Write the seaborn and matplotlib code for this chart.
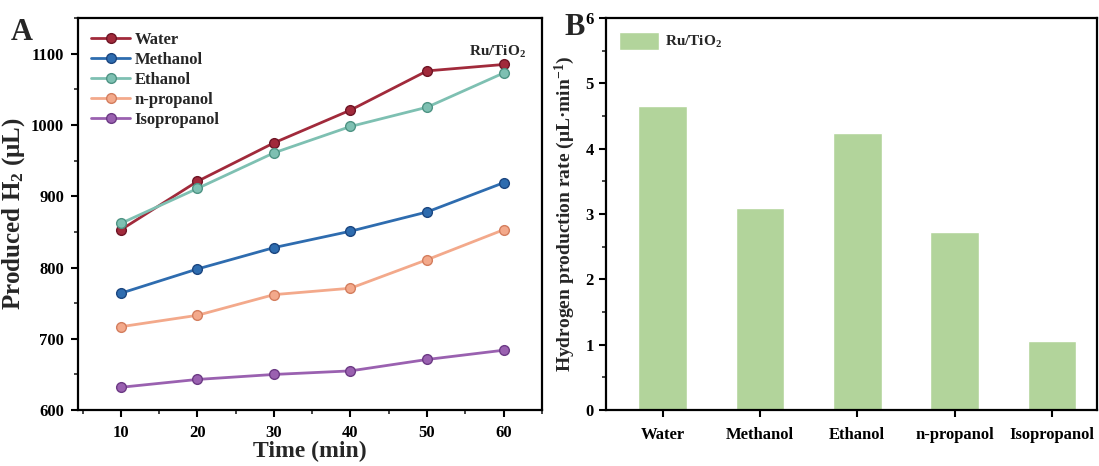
import pandas as pd
import seaborn as sns
import matplotlib.pyplot as plt
from matplotlib.ticker import MultipleLocator

time_min = [10, 20, 30, 40, 50, 60]
water = [853, 921, 975, 1021, 1076, 1085]
methanol = [764, 798, 828, 851, 878, 919]
ethanol = [862, 911, 961, 998, 1025, 1073]
n_propanol = [717, 733, 762, 771, 811, 853]
isopropanol = [632, 643, 650, 655, 671, 684]

solvents = ["Water", "Methanol", "Ethanol", "n-propanol", "Isopropanol"]
rates = [4.65, 3.10, 4.24, 2.72, 1.05]

line_colors = ["#A12A3B", "#2E6CAF", "#7EC0B2", "#F3A98B", "#9A61B0"]
edge_colors = ["#6E1525", "#1B4680", "#4E9484", "#D47E5E", "#6C3A85"]
bar_color = "#B2D49B"

sns.set_style("ticks")
plt.rcParams["font.family"] = ["Liberation Serif", "DejaVu Serif"]
plt.rcParams["font.weight"] = "bold"
plt.rcParams["axes.labelweight"] = "bold"
plt.rcParams["mathtext.fontset"] = "custom"
plt.rcParams["mathtext.rm"] = "Liberation Serif:bold"
plt.rcParams["mathtext.bf"] = "Liberation Serif:bold"
plt.rcParams["mathtext.it"] = "Liberation Serif:bold"

df = pd.DataFrame({
    "Time": time_min * 5,
    "H2": water + methanol + ethanol + n_propanol + isopropanol,
    "Solvent": [s for s in solvents for _ in time_min],
})

fig = plt.figure(figsize=(10.99, 4.66), dpi=100)
ax1 = fig.add_axes([0.071, 0.120, 0.422, 0.841])
ax2 = fig.add_axes([0.551, 0.120, 0.447, 0.841])

# Panel A: produced H2 over time
sns.lineplot(data=df, x="Time", y="H2", hue="Solvent", hue_order=solvents,
             palette=line_colors, marker="o", markersize=7, linewidth=2,
             ax=ax1, legend=False)
for line, ec in zip(ax1.lines, edge_colors):
    line.set_markeredgecolor(ec)
    line.set_markeredgewidth(1)

handles = [plt.Line2D([], [], color=c, marker="o", markersize=7, lw=2,
                      markeredgecolor=ec) for c, ec in zip(line_colors, edge_colors)]
ax1.legend(handles, solvents, loc="upper left", frameon=False,
           handlelength=2.3, handletextpad=0.3, labelspacing=0.25,
           borderaxespad=0.4, prop={"weight": "bold", "size": 12})

ax1.set_xlim(4.4, 65)
ax1.set_ylim(600, 1150)
ax1.set_xticks(time_min)
ax1.set_yticks([600, 700, 800, 900, 1000, 1100])
ax1.xaxis.set_minor_locator(MultipleLocator(5))
ax1.yaxis.set_minor_locator(MultipleLocator(50))
ax1.set_xlabel("Time (min)", fontsize=17, labelpad=0)
ax1.set_ylabel("Produced H$_2$ (μL)", fontsize=18, labelpad=3)
ax1.text(0.965, 0.915, "Ru/TiO$_2$", transform=ax1.transAxes, ha="right",
         va="center", fontsize=11, fontweight="bold")

# Panel B: production rate
bar_df = pd.DataFrame({"Solvent": solvents, "Rate": rates})
sns.barplot(data=bar_df, x="Solvent", y="Rate", color=bar_color, width=0.5,
            ax=ax2, label="Ru/TiO$_2$", saturation=1)
ax2.legend(loc="upper left", frameon=False, handlelength=2.6,
           handleheight=1.4, handletextpad=0.4, borderaxespad=0.5,
           prop={"weight": "bold", "size": 11})
ax2.set_xlim(-0.585, 4.46)
ax2.set_ylim(0, 6)
ax2.yaxis.set_minor_locator(MultipleLocator(0.5))
ax2.set_xlabel("")
ax2.set_ylabel("Hydrogen production rate (μL·min$^{-1}$)", fontsize=14, labelpad=6)

for ax in (ax1, ax2):
    for sp in ax.spines.values():
        sp.set_linewidth(1.6)
        sp.set_color("black")
    ax.tick_params(which="major", direction="out", length=5, width=1.5,
                   labelsize=12, colors="black")
    ax.tick_params(which="minor", direction="out", length=3, width=1.2)
    for lab in ax.get_xticklabels() + ax.get_yticklabels():
        lab.set_fontweight("bold")
ax1.tick_params(axis="x", which="major", pad=6)
ax1.tick_params(axis="y", which="major", pad=5)
ax2.tick_params(axis="x", which="major", pad=7)
ax2.tick_params(axis="x", which="minor", length=0)

fig.text(0.010, 0.915, "A", fontsize=22, fontweight="bold")
fig.text(0.514, 0.925, "B", fontsize=22, fontweight="bold")

fig.savefig("out.png", dpi=100)
